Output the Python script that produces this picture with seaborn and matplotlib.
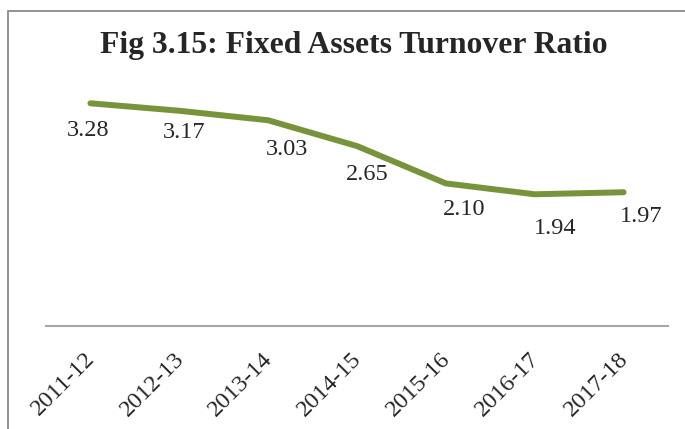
import matplotlib
matplotlib.use("Agg")
import matplotlib.pyplot as plt
import matplotlib.transforms as mtransforms
from matplotlib.patches import Rectangle
import pandas as pd
import seaborn as sns

# data
years = ["2011-12", "2012-13", "2013-14", "2014-15", "2015-16", "2016-17", "2017-18"]
ratio = [3.28, 3.17, 3.03, 2.65, 2.10, 1.94, 1.97]

df = pd.DataFrame({"year": years, "ratio": ratio, "pos": range(len(years))})

sns.set_style("white")
plt.rcParams["font.family"] = ["Liberation Serif", "DejaVu Serif"]

fig = plt.figure(figsize=(6.85, 4.29), dpi=100)
ax = fig.add_axes([46 / 685, 1 - 326 / 429, 622 / 685, (326 - 54.4) / 429])

sns.lineplot(data=df, x="pos", y="ratio", color="#77933C", linewidth=4.3,
             solid_capstyle="round", ax=ax)

# data labels below the points (Excel puts them a bit off-center)
dx = [-2, 5, 19, 10, 18, 20, 18]
dy = [-27, -22, -29, -28, -26, -34, -24]
for i, v in enumerate(ratio):
    ax.annotate(f"{v:.2f}", (i, v), xytext=(dx[i], dy[i]), textcoords="offset pixels",
                ha="center", va="center", fontsize=17.5, color="#262626")

ax.set_xlim(-0.5, 6.5)
ax.set_ylim(0, 4)
ax.set_xticks(range(len(years)))
ax.set_xticklabels(years, rotation=45, ha="right", rotation_mode="anchor",
                   fontsize=17.5, color="#262626")
ax.tick_params(axis="x", length=0, pad=16)
ax.set_yticks([])
ax.set_xlabel("")
ax.set_ylabel("")
for s in ["top", "right", "left"]:
    ax.spines[s].set_visible(False)
ax.spines["bottom"].set_color("#A6A6A6")
ax.spines["bottom"].set_linewidth(1.5)

# shift tick labels slightly left like the original
offset = mtransforms.ScaledTranslation(-6 / 100, 0, fig.dpi_scale_trans)
for lbl in ax.get_xticklabels():
    lbl.set_transform(lbl.get_transform() + offset)

fig.text(354 / 685, 1 - 46 / 429, "Fig 3.15: Fixed Assets Turnover Ratio",
         ha="center", va="center", fontsize=22.8, fontweight="bold", color="#262626")

# chart frame
fig.patches.append(Rectangle((8 / 685, -0.1), 1.2, 0.1 + 1 - 11 / 429,
                             transform=fig.transFigure, fill=False,
                             edgecolor="#808080", linewidth=1.2))

fig.savefig("out.png", dpi=100)
